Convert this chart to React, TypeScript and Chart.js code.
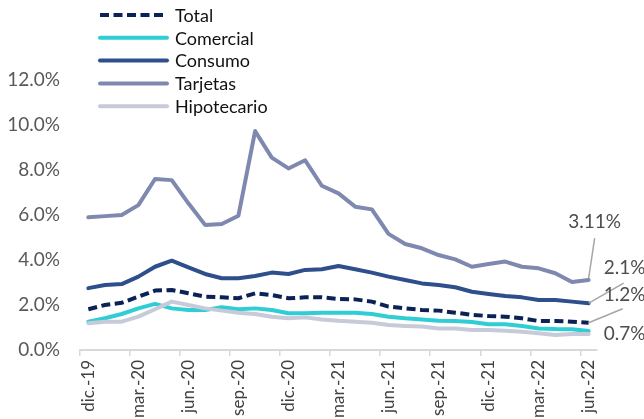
import React, { useEffect, useRef } from 'react';
import { Chart, registerables } from 'chart.js';

Chart.register(...registerables);

const months = [
  'dic.-19', 'ene.-20', 'feb.-20', 'mar.-20', 'abr.-20', 'may.-20', 'jun.-20', 'jul.-20', 'ago.-20',
  'sep.-20', 'oct.-20', 'nov.-20', 'dic.-20', 'ene.-21', 'feb.-21', 'mar.-21', 'abr.-21', 'may.-21',
  'jun.-21', 'jul.-21', 'ago.-21', 'sep.-21', 'oct.-21', 'nov.-21', 'dic.-21', 'ene.-22', 'feb.-22',
  'mar.-22', 'abr.-22', 'may.-22', 'jun.-22',
];

const total = [1.81, 2.0, 2.1, 2.37, 2.64, 2.67, 2.52, 2.37, 2.34, 2.3, 2.52, 2.44, 2.3, 2.34, 2.34, 2.27, 2.25, 2.15, 1.93, 1.85, 1.78, 1.75, 1.66, 1.56, 1.51, 1.48, 1.41, 1.29, 1.29, 1.26, 1.21];
const comercial = [1.26, 1.41, 1.6, 1.85, 2.05, 1.85, 1.78, 1.78, 1.9, 1.81, 1.85, 1.78, 1.63, 1.63, 1.66, 1.66, 1.66, 1.6, 1.48, 1.41, 1.36, 1.3, 1.29, 1.24, 1.14, 1.14, 1.07, 0.96, 0.93, 0.92, 0.84];
const consumo = [2.75, 2.89, 2.93, 3.26, 3.7, 3.97, 3.67, 3.38, 3.19, 3.19, 3.29, 3.44, 3.38, 3.56, 3.59, 3.73, 3.59, 3.44, 3.26, 3.11, 2.96, 2.89, 2.79, 2.59, 2.49, 2.4, 2.34, 2.22, 2.22, 2.15, 2.08];
const tarjetas = [5.9, 5.95, 6.0, 6.44, 7.6, 7.55, 6.52, 5.56, 5.6, 5.97, 9.73, 8.55, 8.07, 8.43, 7.3, 6.96, 6.37, 6.25, 5.16, 4.71, 4.52, 4.22, 4.03, 3.7, 3.82, 3.93, 3.7, 3.63, 3.41, 3.02, 3.11];
const hipotecario = [1.19, 1.26, 1.26, 1.48, 1.81, 2.15, 2.0, 1.85, 1.75, 1.66, 1.6, 1.48, 1.41, 1.45, 1.36, 1.3, 1.26, 1.21, 1.11, 1.07, 1.04, 0.96, 0.96, 0.89, 0.89, 0.86, 0.81, 0.74, 0.67, 0.71, 0.71];

const seriesNames = ['Total', 'Comercial', 'Consumo', 'Tarjetas', 'Hipotecario'];
const yMin = 0;
const yMax = 12;
const yStep = 2;

const FONT = "Lato, 'DejaVu Sans', sans-serif";
const COLORS = ['#0B2257', '#30CDD5', '#2E4E8C', '#7F89AF', '#C6CAD9'];

export default function App() {
  const ref = useRef<HTMLCanvasElement>(null);

  useEffect(() => {
    const canvas = ref.current;
    if (!canvas) return;
    const values = [total, comercial, consumo, tarjetas, hipotecario];

    const legendPlugin = {
      id: 'customLegend',
      afterDraw(chart: any) {
        const c = chart.ctx;
        c.save();
        chart.data.datasets.forEach((ds: any, i: number) => {
          const y = 15 + i * 22.8;
          c.beginPath();
          c.strokeStyle = ds.borderColor;
          c.lineWidth = 4;
          c.lineCap = ds.borderDash && ds.borderDash.length ? 'butt' : 'round';
          c.setLineDash(ds.borderDash || []);
          c.moveTo(100, y);
          c.lineTo(167, y);
          c.stroke();
          c.setLineDash([]);
          c.fillStyle = '#111111';
          c.font = `18px ${FONT}`;
          c.textAlign = 'left';
          c.textBaseline = 'middle';
          c.fillText(ds.label, 175, y + 1);
        });
        c.restore();
      },
    };

    const labelSpecs = [
      { ds: 3, dec: 2, dx: 6, dy: -58, align: 'center', line: [0, -2, 6, -42] },
      { ds: 2, dec: 1, dx: 15, dy: -35, align: 'left', line: [0, 0, 35, -20] },
      { ds: 0, dec: 1, dx: 15, dy: -28, align: 'left', line: [0, 0, 34, -14] },
      { ds: 4, dec: 1, dx: 15, dy: 0, align: 'left', line: null as number[] | null },
    ];

    const endLabelPlugin = {
      id: 'endLabels',
      afterDatasetsDraw(chart: any) {
        const c = chart.ctx;
        c.save();
        labelSpecs.forEach((s) => {
          const meta = chart.getDatasetMeta(s.ds);
          const pts = meta.data;
          const p = pts[pts.length - 1];
          const data = chart.data.datasets[s.ds].data;
          const v = data[data.length - 1] as number;
          if (s.line) {
            c.beginPath();
            c.strokeStyle = '#A6A6A6';
            c.lineWidth = 1.5;
            c.moveTo(p.x + s.line[0], p.y + s.line[1]);
            c.lineTo(p.x + s.line[2], p.y + s.line[3]);
            c.stroke();
          }
          c.fillStyle = '#4D4D4D';
          c.font = `19px ${FONT}`;
          c.textAlign = s.align;
          c.textBaseline = 'middle';
          c.fillText(v.toFixed(s.dec) + '%', p.x + s.dx, p.y + s.dy);
        });
        c.restore();
      },
    };

    const chart = new Chart(canvas, {
      type: 'line',
      data: {
        labels: months,
        datasets: values.map((d, i) => ({
          label: seriesNames[i],
          data: d,
          borderColor: COLORS[i],
          backgroundColor: COLORS[i],
          borderWidth: 4,
          borderDash: i === 0 ? [9, 4.5] : [],
          borderCapStyle: i === 0 ? 'butt' : 'round',
          borderJoinStyle: 'round',
          pointRadius: 0,
          tension: 0,
          fill: false,
          order: 5 - i,
        })),
      },
      options: {
        animation: false,
        responsive: true,
        maintainAspectRatio: false,
        layout: { padding: { top: 80, right: 47, left: 0, bottom: 0 } },
        plugins: {
          legend: { display: false },
          tooltip: { enabled: false },
        },
        scales: {
          x: {
            type: 'category',
            offset: true,
            afterFit(scale: any) {
              scale.height = 69;
            },
            grid: {
              display: true,
              offset: true,
              drawOnChartArea: false,
              drawTicks: true,
              tickLength: 6,
              lineWidth: 1.5,
              color: (ctx: any) => (ctx.index % 3 === 0 ? '#D9D9D9' : 'rgba(0,0,0,0)'),
            },
            border: { display: true, color: '#D9D9D9', width: 2 },
            ticks: {
              autoSkip: false,
              maxRotation: 90,
              minRotation: 90,
              padding: 4,
              color: '#404040',
              font: { family: FONT, size: 17 },
              callback: (_v: any, i: number) => (i % 3 === 0 ? months[i] : ''),
            },
          },
          y: {
            min: yMin,
            max: yMax,
            afterFit(scale: any) {
              scale.width = 80;
            },
            grid: { display: false, drawTicks: false, tickLength: 0 },
            border: { display: false },
            ticks: {
              stepSize: yStep,
              padding: 20,
              color: '#595959',
              font: { family: FONT, size: 19 },
              callback: (v: any) => Number(v).toFixed(1) + '%',
            },
          },
        },
      },
      plugins: [legendPlugin, endLabelPlugin],
    } as any);

    return () => chart.destroy();
  }, []);

  return (
    <div style={{ position: 'fixed', left: 0, top: 0, width: 644, height: 419, background: '#ffffff' }}>
      <canvas ref={ref} />
    </div>
  );
}
